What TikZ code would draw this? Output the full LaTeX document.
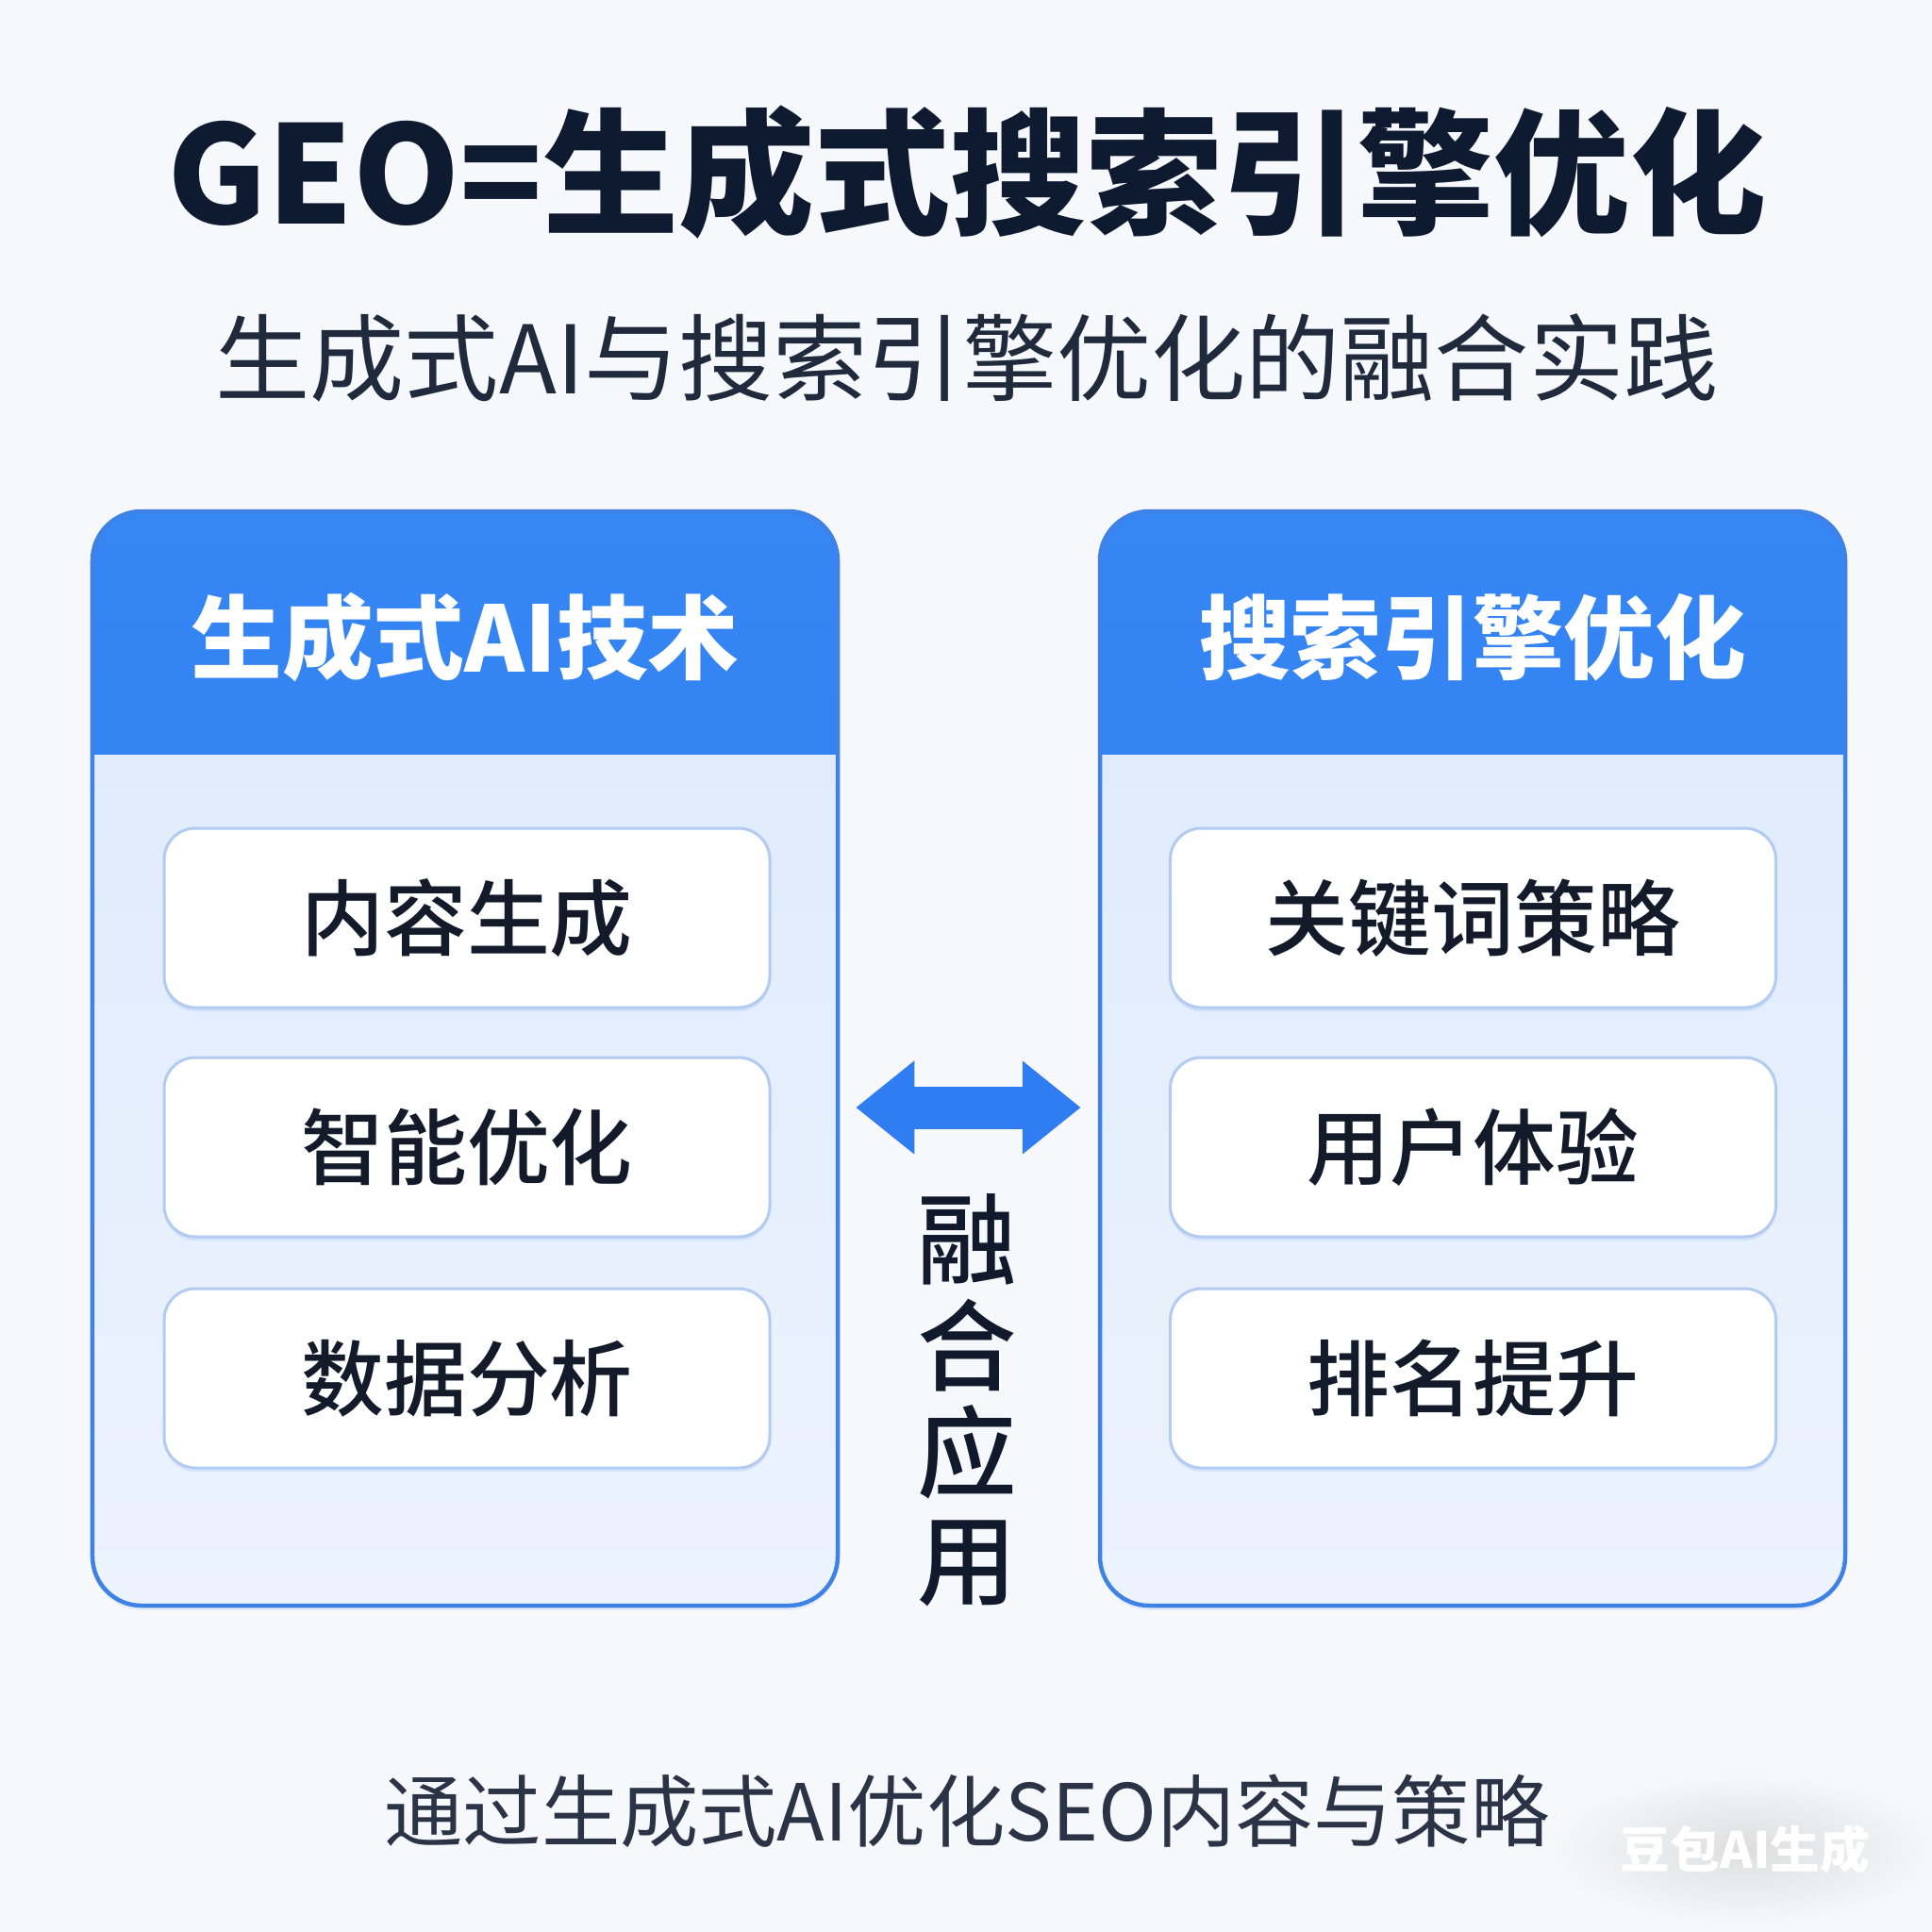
\documentclass[tikz,border=0pt]{standalone}
\usepackage{fontspec}
\setmainfont{Noto Sans CJK SC}
\newfontfamily\medfont{Noto Sans CJK SC Medium}
\usetikzlibrary{calc,shadows,arrows.meta}
\definecolor{bgc}{HTML}{F6F8FB}
\definecolor{titlec}{HTML}{0E1A2F}
\definecolor{subc}{HTML}{1F2A3C}
\definecolor{headtop}{HTML}{3686F4}
\definecolor{headbot}{HTML}{2C77EE}
\definecolor{borderc}{HTML}{3F82E6}
\definecolor{bodytop}{HTML}{DDE9FB}
\definecolor{bodybot}{HTML}{ECF3FD}
\definecolor{innerc}{HTML}{B2CBF0}
\definecolor{itemc}{HTML}{131B2B}
\definecolor{arrowc}{HTML}{2F7DF0}
\definecolor{vertc}{HTML}{101A2C}
\definecolor{footc}{HTML}{2B3446}
\begin{document}
\begin{tikzpicture}[x=1cm,y=-1cm,
  panel/.style={draw=borderc, line width=0.045cm, rounded corners=0.52cm,
    minimum width=7.9cm, minimum height=11.6cm, inner sep=0pt,
    top color=bodytop, bottom color=bodybot,
    drop shadow={shadow xshift=0cm, shadow yshift=-0.05cm, opacity=0.08, fill=borderc},
    path picture={\shade[sharp corners, top color=headtop, bottom color=headbot]
      (path picture bounding box.north west) rectangle ([yshift=-2.57cm]path picture bounding box.north east);}},
  headtext/.style={text=white, font=\bfseries\fontsize{27.5}{30}\selectfont},
  itembox/.style={draw=innerc, line width=0.03cm, fill=white, rounded corners=0.33cm,
    minimum width=6.42cm, minimum height=1.90cm, inner sep=0pt,
    text=itemc, font=\medfont\fontsize{25}{28}\selectfont,
    drop shadow={shadow xshift=0cm, shadow yshift=-0.04cm, opacity=0.12, fill=borderc}},
  bigarrow/.style={draw=arrowc, line width=0.45cm, line cap=butt,
    {Triangle[length=0.62cm, width=0.95cm]}-{Triangle[length=0.62cm, width=0.95cm]}}
]
\useasboundingbox (0,0) rectangle (20.48,20.48);
\fill[bgc] (0,0) rectangle (20.48,20.48);

% title and subtitle
\node[text=titlec, font=\bfseries\fontsize{41}{46}\selectfont] (title) at (10.25,1.83) {GEO=生成式搜索引擎优化};
\node[text=subc, font=\fontsize{28.5}{32}\selectfont] (subtitle) at (10.25,3.79) {生成式AI与搜索引擎优化的融合实践};

% panels
\node[panel] (L) at (4.93,11.22) {};
\node[panel] (R) at (15.61,11.22) {};

\node[headtext] (Lh) at (4.93,6.76) {生成式AI技术};
\node[headtext] (Rh) at (15.61,6.76) {搜索引擎优化};

% items
\node[itembox] (L1) at (4.95,9.73) {内容生成};
\node[itembox] (L2) at (4.95,12.16) {智能优化};
\node[itembox] (L3) at (4.95,14.61) {数据分析};
\node[itembox] (R1) at (15.615,9.73) {关键词策略};
\node[itembox] (R2) at (15.615,12.16) {用户体验};
\node[itembox] (R3) at (15.615,14.61) {排名提升};

% double arrow between panels
\coordinate (aL) at ($(L.east)+(0.17,0.52)$);
\coordinate (aR) at ($(R.west)+(-0.18,0.52)$);
\draw[bigarrow] (aL) -- (aR);

% vertical label
\node[text=vertc, font=\medfont\fontsize{30}{32.2}\selectfont, align=center, inner sep=0pt] (fuse) at (10.25,14.84) {融\\合\\应\\用};

% footer
\node[text=footc, font=\fontsize{23.7}{27}\selectfont] (foot) at (10.25,19.20) {通过生成式AI优化SEO内容与策略};

% watermark
\shade[inner color=black!13, outer color=bgc] (18.50,19.60) ellipse (2.1cm and 0.8cm);
\node[text=white, font=\bfseries\fontsize{15}{17}\selectfont] (wm) at (18.50,19.60) {豆包AI生成};
\end{tikzpicture}
\end{document}
